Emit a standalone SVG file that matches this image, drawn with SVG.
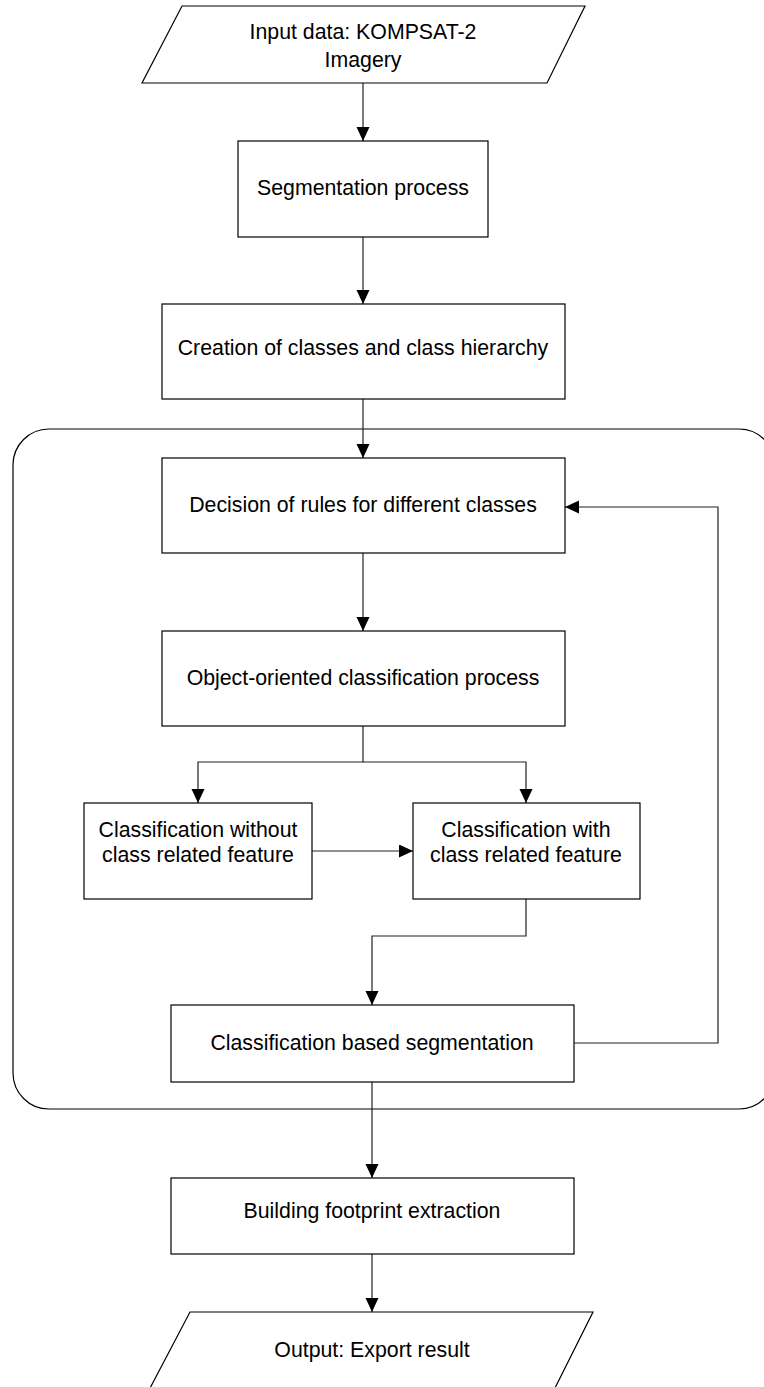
<svg xmlns="http://www.w3.org/2000/svg" width="764" height="1387" viewBox="0 0 764 1387">
<style>
.shape{fill:#fff;stroke:#000;stroke-width:1.2}
.frame{fill:none;stroke:#000;stroke-width:1.2}
.conn{fill:none;stroke:#222;stroke-width:1.2}
.t{font-family:"Liberation Sans",Arial,sans-serif;font-size:21.3px;fill:#000;text-anchor:middle}
</style>
<defs>
<marker id="ah" markerUnits="userSpaceOnUse" markerWidth="15" markerHeight="14" refX="14" refY="6.5" orient="auto">
<path d="M0,0 L14,6.5 L0,13 z" fill="#000"/>
</marker>
</defs>
<rect class="frame" x="13" y="429" width="762" height="680" rx="36" ry="36"/>
<g id="connectors">
<line class="conn" x1="363" y1="83" x2="363" y2="141" marker-end="url(#ah)"/>
<line class="conn" x1="363" y1="237" x2="363" y2="304" marker-end="url(#ah)"/>
<line class="conn" x1="363" y1="399" x2="363" y2="458" marker-end="url(#ah)"/>
<line class="conn" x1="363" y1="553" x2="363" y2="631" marker-end="url(#ah)"/>
<polyline class="conn" points="363,726 363,762 198,762 198,803" marker-end="url(#ah)"/>
<polyline class="conn" points="363,762 526,762 526,803" marker-end="url(#ah)"/>
<line class="conn" x1="312" y1="851" x2="413" y2="851" marker-end="url(#ah)"/>
<polyline class="conn" points="526,899 526,936 372,936 372,1005" marker-end="url(#ah)"/>
<polyline class="conn" points="574,1043 718,1043 718,507 565,507" marker-end="url(#ah)"/>
<line class="conn" x1="372" y1="1082" x2="372" y2="1178" marker-end="url(#ah)"/>
<line class="conn" x1="372" y1="1254" x2="372" y2="1312" marker-end="url(#ah)"/>
</g>
<g id="input">
<polygon class="shape" points="182,6 585,6 547,83 142,83"/>
<text class="t" x="363" y="39">Input data: KOMPSAT-2</text>
<text class="t" x="363" y="67">Imagery</text>
</g>
<g id="segmentation">
<rect class="shape" x="238" y="141" width="250" height="96"/>
<text class="t" x="363" y="195">Segmentation process</text>
</g>
<g id="creation">
<rect class="shape" x="162" y="304" width="403" height="95"/>
<text class="t" x="363" y="355">Creation of classes and class hierarchy</text>
</g>
<g id="decision">
<rect class="shape" x="162" y="458" width="403" height="95"/>
<text class="t" x="363" y="512">Decision of rules for different classes</text>
</g>
<g id="object">
<rect class="shape" x="162" y="631" width="403" height="95"/>
<text class="t" x="363" y="685">Object-oriented classification process</text>
</g>
<g id="without">
<rect class="shape" x="84" y="803" width="228" height="96"/>
<text class="t" x="198" y="837">Classification without</text>
<text class="t" x="198" y="862">class related feature</text>
</g>
<g id="with">
<rect class="shape" x="413" y="803" width="227" height="96"/>
<text class="t" x="526" y="837">Classification with</text>
<text class="t" x="526" y="862">class related feature</text>
</g>
<g id="based">
<rect class="shape" x="171" y="1005" width="403" height="77"/>
<text class="t" x="372" y="1050">Classification based segmentation</text>
</g>
<g id="building">
<rect class="shape" x="171" y="1178" width="403" height="76"/>
<text class="t" x="372" y="1218">Building footprint extraction</text>
</g>
<g id="output">
<polygon class="shape" points="190,1312 593,1312 553,1392 148,1392"/>
<text class="t" x="372" y="1357">Output: Export result</text>
</g>
</svg>
